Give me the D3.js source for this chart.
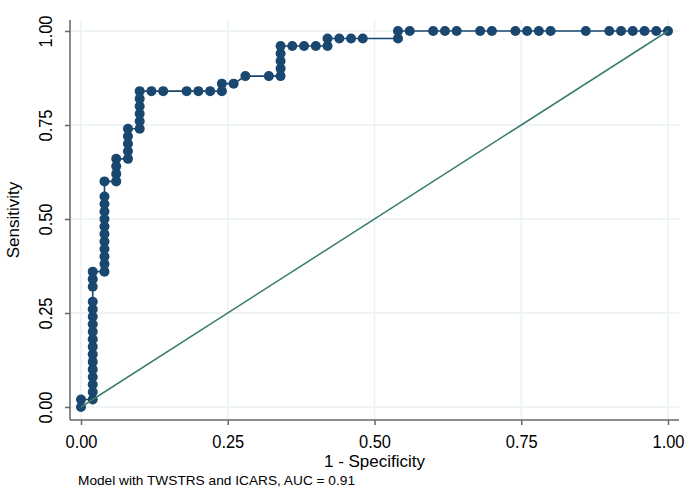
<!DOCTYPE html>
<html>
<head>
<meta charset="utf-8">
<script src="https://cdn.jsdelivr.net/npm/d3@7"></script>
<style>
  body { margin: 0; background: #fff; }
  text { font-family: "Liberation Sans", Arial, sans-serif; fill: #000; }
</style>
</head>
<body>
<div id="chart"></div>
<script>
// ROC points: 1 - specificity and sensitivity, in curve order
const fpr = [
  0, 0,
  0.02, 0.02, 0.02, 0.02, 0.02, 0.02, 0.02, 0.02, 0.02, 0.02, 0.02, 0.02, 0.02, 0.02, 0.02, 0.02, 0.02,
  0.04, 0.04, 0.04, 0.04, 0.04, 0.04, 0.04, 0.04, 0.04, 0.04, 0.04, 0.04,
  0.06, 0.06, 0.06, 0.06,
  0.08, 0.08, 0.08, 0.08, 0.08,
  0.10, 0.10, 0.10, 0.10, 0.10, 0.10,
  0.12, 0.14, 0.18, 0.20, 0.22, 0.24,
  0.24, 0.26, 0.28, 0.32,
  0.34, 0.34, 0.34, 0.34, 0.34,
  0.36, 0.38, 0.40, 0.42,
  0.42, 0.44, 0.46, 0.48,
  0.54, 0.54,
  0.56, 0.60, 0.62, 0.64, 0.68, 0.70, 0.74, 0.76, 0.78, 0.80, 0.86, 0.90, 0.92, 0.94, 0.96, 0.98, 1.00
];
const tpr = [
  0, 0.02,
  0.02, 0.04, 0.06, 0.08, 0.10, 0.12, 0.14, 0.16, 0.18, 0.20, 0.22, 0.24, 0.26, 0.28, 0.32, 0.34, 0.36,
  0.36, 0.38, 0.40, 0.42, 0.44, 0.46, 0.48, 0.50, 0.52, 0.54, 0.56, 0.60,
  0.60, 0.62, 0.64, 0.66,
  0.66, 0.68, 0.70, 0.72, 0.74,
  0.74, 0.76, 0.78, 0.80, 0.82, 0.84,
  0.84, 0.84, 0.84, 0.84, 0.84, 0.84,
  0.86, 0.86, 0.88, 0.88,
  0.88, 0.90, 0.92, 0.94, 0.96,
  0.96, 0.96, 0.96, 0.96,
  0.98, 0.98, 0.98, 0.98,
  0.98, 1.00,
  1.00, 1.00, 1.00, 1.00, 1.00, 1.00, 1.00, 1.00, 1.00, 1.00, 1.00, 1.00, 1.00, 1.00, 1.00, 1.00, 1.00
];
const ticks = [0, 0.25, 0.5, 0.75, 1];
const xTitle = "1 - Specificity";
const yTitle = "Sensitivity";
const note = "Model with TWSTRS and ICARS, AUC = 0.91";

const W = 691, H = 493;
const box = { left: 70, right: 679, top: 20, bottom: 420 };

const x = d3.scaleLinear().domain([0, 1]).range([81, 668]);
const y = d3.scaleLinear().domain([0, 1]).range([407, 31]);

const svg = d3.select("#chart").append("svg")
  .attr("width", W)
  .attr("height", H);

// grid
svg.selectAll(".vgrid").data(ticks).enter().append("line")
  .attr("x1", d => x(d)).attr("x2", d => x(d))
  .attr("y1", box.top).attr("y2", box.bottom)
  .attr("stroke", "#eaf2f3").attr("stroke-width", 1.5);
svg.selectAll(".hgrid").data(ticks).enter().append("line")
  .attr("y1", d => y(d)).attr("y2", d => y(d))
  .attr("x1", box.left).attr("x2", box.right)
  .attr("stroke", "#eaf2f3").attr("stroke-width", 1.5);

// axes
const fmt = d3.format(".2f");
const xAxis = svg.append("g")
  .attr("transform", `translate(0,${box.bottom})`)
  .call(d3.axisBottom(x).tickValues(ticks).tickFormat(fmt).tickSize(5));
const yAxis = svg.append("g")
  .attr("transform", `translate(${box.left},0)`)
  .call(d3.axisLeft(y).tickValues(ticks).tickFormat(fmt).tickSize(5));

[xAxis, yAxis].forEach(g => {
  g.select(".domain").remove();
  g.selectAll(".tick line").attr("stroke", "#666").attr("stroke-width", 1.5);
});

xAxis.selectAll(".tick text")
  .attr("y", 28).attr("dy", null)
  .attr("font-size", 18).attr("font-family", "Liberation Sans, Arial, sans-serif")
  .attr("textLength", 32).attr("lengthAdjust", "spacingAndGlyphs")
  .attr("fill", "#000");

yAxis.selectAll(".tick text")
  .attr("x", null).attr("dy", null).attr("y", null)
  .attr("text-anchor", "middle")
  .attr("transform", "translate(-18,0) rotate(-90)")
  .attr("font-size", 18).attr("font-family", "Liberation Sans, Arial, sans-serif")
  .attr("textLength", 32).attr("lengthAdjust", "spacingAndGlyphs")
  .attr("fill", "#000");

svg.append("line")
  .attr("x1", box.left).attr("x2", box.right)
  .attr("y1", box.bottom).attr("y2", box.bottom)
  .attr("stroke", "#666").attr("stroke-width", 1.5);
svg.append("line")
  .attr("x1", box.left).attr("x2", box.left)
  .attr("y1", box.top).attr("y2", box.bottom)
  .attr("stroke", "#666").attr("stroke-width", 1.5);

// titles
svg.append("text")
  .attr("x", (box.left + box.right) / 2).attr("y", 467)
  .attr("text-anchor", "middle")
  .attr("font-size", 17)
  .text(xTitle);
svg.append("text")
  .attr("transform", `translate(19,${(box.top + box.bottom) / 2}) rotate(-90)`)
  .attr("text-anchor", "middle")
  .attr("font-size", 17)
  .text(yTitle);
svg.append("text")
  .attr("x", 78).attr("y", 485)
  .attr("font-size", 13.5)
  .attr("textLength", 277).attr("lengthAdjust", "spacingAndGlyphs")
  .text(note);

// curve
const pts = fpr.map((f, i) => [f, tpr[i]]);
const line = d3.line().x(d => x(d[0])).y(d => y(d[1]));

svg.append("path")
  .attr("d", line(pts))
  .attr("fill", "none")
  .attr("stroke", "#1a476f")
  .attr("stroke-width", 1.6);

svg.selectAll(".pt").data(pts).enter().append("circle")
  .attr("cx", d => x(d[0]))
  .attr("cy", d => y(d[1]))
  .attr("r", 5)
  .attr("fill", "#1a476f");

// reference line
svg.append("path")
  .attr("d", line([[0, 0], [1, 1]]))
  .attr("fill", "none")
  .attr("stroke", "#3a7d6e")
  .attr("stroke-width", 1.5);
</script>
</body>
</html>
